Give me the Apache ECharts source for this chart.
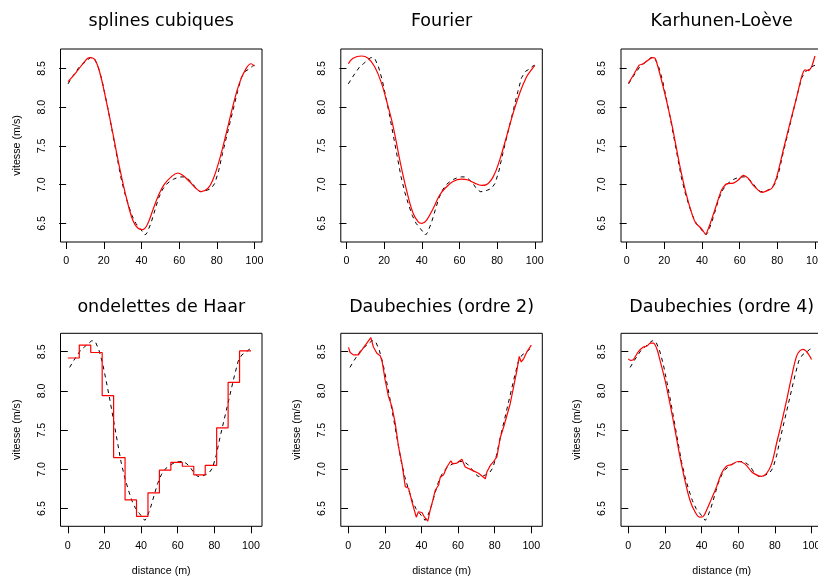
<!DOCTYPE html>
<html>
<head>
<meta charset="utf-8">
<script src="https://cdn.jsdelivr.net/npm/echarts@6/dist/echarts.min.js"></script>
<style>html,body{margin:0;padding:0;background:#fff}#c{width:818px;height:579px}</style>
</head>
<body>
<div id="c"></div>
<script>
// ---- data ----
const titles = ["splines cubiques", "Fourier", "Karhunen-Loève", "ondelettes de Haar", "Daubechies (ordre 2)", "Daubechies (ordre 4)"];
const xTicks = [0, 20, 40, 60, 80, 100];
const yTicks = [6.5, 7.0, 7.5, 8.0, 8.5];

// original speed profile (dashed)
const origX = [1,3,5,7,9,11,13,15,17,19,21,23,25,27,29,31,33,35,37,39,41,42,43,45,47,49,51,53,55,57,59,61,63,65,67,69,71,73,75,77,79,81,83,85,87,89,91,93,95,97,99,100];
const origV = [8.30,8.38,8.45,8.52,8.56,8.60,8.64,8.63,8.52,8.35,8.12,7.88,7.62,7.36,7.10,6.90,6.74,6.60,6.50,6.44,6.38,6.35,6.38,6.50,6.66,6.82,6.93,7.00,7.04,7.07,7.09,7.10,7.10,7.07,7.02,6.95,6.91,6.91,6.93,6.95,7.02,7.18,7.40,7.60,7.80,8.00,8.20,8.38,8.46,8.49,8.53,8.54];

// cubic splines
const splX = [1,5,10.6,12.4,15,17.7,21.2,24.8,28.3,31.9,35.4,38,40.5,43,46,49,52,55.8,59.3,61.9,65.5,69,71.7,75.2,77.9,81.4,85,88.5,92,95.6,98.2,100];
const splV = [8.33,8.44,8.61,8.64,8.62,8.46,8.09,7.66,7.23,6.84,6.54,6.44,6.42,6.48,6.67,6.86,7.00,7.10,7.15,7.12,7.04,6.95,6.91,6.95,7.06,7.32,7.66,8.01,8.31,8.50,8.56,8.53];

// Fourier
const fouX = [1,3.5,8,11.5,15,18.6,21.2,24.8,28.3,31.9,35.4,38.1,40,42.5,46,49.6,53.1,56.6,61.1,64.6,68.1,71.7,74.3,77.9,81.4,85,88.5,92,95.6,98.2,100];
const fouV = [8.56,8.63,8.66,8.63,8.52,8.31,8.09,7.75,7.32,6.93,6.63,6.52,6.50,6.54,6.69,6.87,6.97,7.04,7.07,7.06,7.02,6.99,7.00,7.10,7.32,7.62,7.92,8.18,8.39,8.48,8.54];

// Karhunen-Loeve
const klX = [1,4,6.6,8.4,11,13.7,15.1,17.3,20.9,24.4,28,31.5,35.1,36.8,38.6,40.4,41.9,44.1,47.7,50.4,53,56.6,59.3,61.9,64.6,67.3,71.7,74.4,77,79.7,83.2,86.7,90.3,92.9,94.7,96.5,98.2,100];
const klV = [8.31,8.43,8.54,8.556,8.60,8.64,8.63,8.46,8.11,7.73,7.27,6.89,6.59,6.50,6.46,6.41,6.36,6.48,6.74,6.93,7.01,7.02,7.06,7.12,7.08,6.99,6.90,6.92,6.95,7.10,7.45,7.79,8.13,8.39,8.48,8.47,8.52,8.66];

// Haar wavelets (step edges and levels)
const haarEdges = [0,6.25,12.5,18.75,25,31.25,37.5,43.75,50,56.25,62.5,68.75,75,81.25,87.5,93.75,100];
const haarV = [8.42,8.585,8.49,7.94,7.15,6.61,6.40,6.70,6.99,7.09,7.04,6.93,7.05,7.53,8.11,8.51];

// Daubechies order 2
const d2X = [0.2,1.1,2.9,5.6,6.2,8,10.2,12.4,13.8,15.7,17.5,18.6,20.2,22,23.9,25.7,27.5,29.4,31.2,33,34.8,37.2,38.4,40.3,41.7,43.5,44.8,46.3,47.5,49.4,50.3,52.1,53.9,56.1,57,59.4,62.1,63.9,67.6,71.2,74.9,75.8,77.6,79.4,81.2,83.1,84.9,86.7,88.5,90.3,92.2,93.4,94.5,95.8,97.6,100];
const d2V = [8.555,8.49,8.46,8.46,8.45,8.54,8.61,8.68,8.56,8.48,8.45,8.37,8.14,7.93,7.80,7.59,7.29,7.07,6.78,6.76,6.59,6.39,6.46,6.45,6.39,6.34,6.48,6.61,6.73,6.80,6.90,6.93,7.03,7.11,7.07,7.08,7.13,7.03,6.99,6.95,6.88,6.97,7.05,7.10,7.16,7.41,7.54,7.69,7.84,8.05,8.27,8.44,8.37,8.41,8.50,8.585];

// Daubechies order 4
const d4X = [0,1.3,2.7,5.5,8.2,10,12.2,13.6,15.5,17.3,20,22.7,25.5,28.2,30.9,33.6,36.4,39.1,40.9,42.7,45.5,48.2,50.9,53.6,56.4,60,63.6,67.3,70,72.7,75.5,78.2,80.9,83.6,86.4,89.1,91.8,93.6,95.5,97.3,99.1,100];
const d4V = [8.41,8.39,8.40,8.50,8.56,8.57,8.61,8.61,8.54,8.39,8.14,7.84,7.50,7.16,6.86,6.61,6.46,6.39,6.40,6.48,6.63,6.78,6.95,7.04,7.06,7.10,7.07,6.97,6.93,6.91,6.95,7.07,7.33,7.59,7.88,8.18,8.44,8.51,8.53,8.50,8.44,8.40];

// ---- layout ----
const colLeft = [60.5, 340.8, 621];
const rowTop = [49, 333.3];
const boxW = 201.5, boxH = 193;
const xRange = [[-3.0, 104.0], [-4.0, 106.0]];
const yRange = [[6.26, 8.75], [6.274, 8.735]];
const labelFont = 'Liberation Sans';

function zip(xs, ys) { return xs.map((x, i) => [x, ys[i]]); }
const haarData = haarEdges.map((x, i) => [x, haarV[Math.min(i, haarV.length - 1)]]);

const redSets = [
  { d: zip(splX, splV), smooth: 0.4, step: false },
  { d: zip(fouX, fouV), smooth: 0.4, step: false },
  { d: zip(klX, klV), smooth: 0.2, step: false },
  { d: haarData, smooth: false, step: 'end' },
  { d: zip(d2X, d2V), smooth: false, step: false },
  { d: zip(d4X, d4V), smooth: 0.4, step: false }
];
const origData = zip(origX, origV);

const grid = [], xAxis = [], yAxis = [], series = [], title = [];
for (let k = 0; k < 6; k++) {
  const r = Math.floor(k / 3), c = k % 3;
  grid.push({ left: colLeft[c], width: boxW, top: rowTop[r], height: boxH,
    outerBoundsMode: 'none',
    show: true, borderColor: '#000', borderWidth: 1, backgroundColor: 'transparent', containLabel: false });
  xAxis.push({
    type: 'value', gridIndex: k, min: xRange[r][0], max: xRange[r][1],
    axisLine: { show: false },
    axisTick: { show: true, inside: false, length: 7, lineStyle: { color: '#000', width: 1 }, customValues: xTicks },
    axisLabel: { show: true, margin: 14, color: '#000', fontFamily: labelFont, fontSize: 10.7, customValues: xTicks, hideOverlap: false },
    splitLine: { show: false },
    name: r === 1 ? 'distance (m)' : '', nameLocation: 'middle', nameGap: 39,
    nameTextStyle: { color: '#000', fontFamily: labelFont, fontSize: 10.7 }
  });
  yAxis.push({
    type: 'value', gridIndex: k, min: yRange[r][0], max: yRange[r][1],
    axisLine: { show: false },
    axisTick: { show: true, inside: false, length: 7, lineStyle: { color: '#000', width: 1 }, customValues: yTicks },
    axisLabel: { show: true, rotate: 90, margin: 13, color: '#000', fontFamily: labelFont, fontSize: 10.7,
      customValues: yTicks, formatter: v => v.toFixed(1) },
    splitLine: { show: false },
    name: (r === 1 || k === 0) ? 'vitesse (m/s)' : '', nameLocation: 'middle', nameGap: 38, nameRotate: 90,
    nameTextStyle: { color: '#000', fontFamily: labelFont, fontSize: 10.7 }
  });
  series.push({
    type: 'line', xAxisIndex: k, yAxisIndex: k, data: origData, showSymbol: false, symbol: 'none',
    lineStyle: { color: '#000', width: 1, type: [4, 4] }, silent: true, animation: false, z: 2
  });
  series.push({
    type: 'line', xAxisIndex: k, yAxisIndex: k, data: redSets[k].d, showSymbol: false, symbol: 'none',
    smooth: redSets[k].smooth, step: redSets[k].step,
    lineStyle: { color: '#ff0000', width: 1.2 }, silent: true, animation: false, z: 3
  });
  title.push({
    text: titles[k], left: colLeft[c] + boxW / 2, top: r === 0 ? 12 : 298.5, textAlign: 'center', padding: 0,
    textStyle: { fontFamily: 'DejaVu Sans', fontWeight: 'normal', fontSize: 17.5, color: '#000' }
  });
}

const chart = echarts.init(document.getElementById('c'), null, { renderer: 'canvas' });
chart.setOption({ animation: false, backgroundColor: '#fff', title, grid, xAxis, yAxis, series });
</script>
</body>
</html>
